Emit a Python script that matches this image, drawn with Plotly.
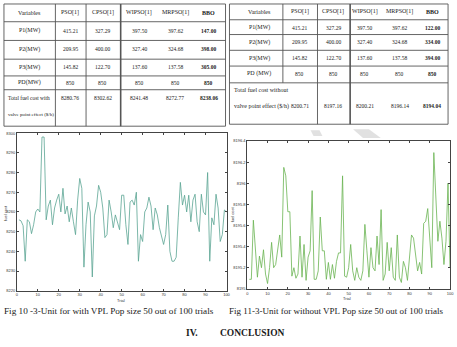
import plotly.graph_objects as go

W, H = 457, 347

# ---------------- data ----------------
trials = list(range(1, 101))

cost_with_vpl = [
    8256, 8255.5, 8253, 8235, 8256, 8255, 8249, 8253.5, 8260, 8261.5,
    8260, 8298, 8298, 8256, 8263, 8266, 8253.5, 8262, 8266, 8269,
    8260, 8272, 8259, 8263, 8255, 8262, 8255, 8248.5, 8266, 8277,
    8272, 8232, 8253.5, 8265, 8260, 8227, 8258, 8263, 8273.5, 8270,
    8262, 8247, 8248.5, 8266, 8260, 8252, 8258.5, 8255, 8251, 8268.5,
    8268.5, 8253.5, 8243.5, 8265, 8266, 8263.5, 8270, 8235, 8248.5, 8245,
    8260, 8262, 8267.5, 8263, 8251, 8262, 8258.5, 8252, 8248, 8243.5,
    8248.5, 8263.5, 8240, 8235, 8235, 8237, 8257, 8275, 8263.5, 8268.5,
    8260, 8268.5, 8255, 8266, 8269, 8255, 8250, 8269, 8260, 8258.5,
    8280, 8235, 8257, 8253.5, 8269, 8262, 8245, 8248.5, 8261, 8260,
]

cost_without_vpl = [
    8195.09, 8195.09, 8195.65, 8195.37, 8195.11, 8195.31, 8195.20, 8195.37, 8195.14, 8195.05,
    8195.20, 8195.44, 8195.20, 8195.23, 8195.39, 8195.51, 8195.30, 8196.15, 8196.07, 8195.73,
    8195.73, 8195.12, 8195.20, 8195.10, 8195.14, 8195.50, 8195.11, 8195.42, 8195.08, 8195.30,
    8195.36, 8195.93, 8195.09, 8195.09, 8195.17, 8195.68, 8195.36, 8195.36, 8195.09, 8195.25,
    8195.09, 8195.23, 8195.10, 8195.26, 8195.34, 8195.34, 8196.07, 8195.12, 8195.11, 8195.20,
    8195.42, 8195.17, 8195.08, 8195.20, 8195.11, 8195.08, 8195.17, 8195.61, 8195.36, 8195.11,
    8195.39, 8195.20, 8195.17, 8195.50, 8195.23, 8195.75, 8195.08, 8195.14, 8195.44, 8195.17,
    8195.39, 8195.11, 8195.08, 8195.51, 8195.11, 8195.06, 8195.26, 8195.20, 8195.08, 8195.30,
    8195.51, 8195.48, 8195.30, 8195.17, 8195.25, 8195.14, 8195.62, 8195.64, 8195.76, 8195.51,
    8195.20, 8196.29, 8195.89, 8195.45, 8195.64, 8195.48, 8195.23, 8195.45, 8196.00, 8195.20,
]

trial_ticks = [0, 10, 20, 30, 40, 50, 60, 70, 80, 90, 100]
vpl_ticks = [8220, 8230, 8240, 8250, 8260, 8270, 8280, 8290, 8300]
novpl_ticks = [8195, 8195.2, 8195.4, 8195.6, 8195.8, 8196, 8196.2, 8196.4]
novpl_ticktext = ["8195", "8195.2", "8195.4", "8195.6", "8195.8", "8196", "8196.2", "8196.4"]

table_headers = ["Variables", "PSO[1]", "CPSO[1]", "WIPSO[1]", "MRPSO[1]", "BBO"]

left_row_labels = ["P1(MW)", "P2(MW)", "P3(MW)", "PD(MW)"]
left_values = [
    ["415.21", "327.29", "397.50", "397.62", "147.00"],
    ["209.95", "400.00", "327.40", "324.68", "398.00"],
    ["145.82", "122.70", "137.60", "137.58", "305.00"],
    ["850", "850", "850", "850", "850"],
]
left_total_label = ["Total fuel cost with", "valve point effect ($/h)"]
left_totals = ["8280.76", "8302.62", "8241.48", "8272.77", "8238.06"]

right_row_labels = ["P1(MW)", "P2(MW)", "P3(MW)", "PD (MW)"]
right_values = [
    ["415.21", "327.29", "397.50", "397.62", "122.00"],
    ["209.95", "400.00", "327.40", "324.68", "334.00"],
    ["145.82", "122.70", "137.60", "137.58", "394.00"],
    ["850", "850", "850", "850", "850"],
]
right_total_label = ["Total fuel cost without", "valve point effect ($/h)"]
right_totals = ["8200.71", "8197.16", "8200.21", "8196.14", "8194.04"]

caption_left = "Fig 10 -3-Unit for with VPL Pop size 50 out of 100 trials"
caption_right = "Fig 11-3-Unit for without VPL Pop size 50 out of 100 trials"
heading_num = "IV."
heading_text = "CONCLUSION"


# ---------------- helpers ----------------
def X(px):
    return px / W


def Y(py):
    return 1 - py / H


shapes = []
annotations = []
SERIF = "Liberation Serif"


def hline(x0, x1, y, w=0.9, c="#555"):
    shapes.append(dict(type="line", xref="paper", yref="paper", x0=X(x0), x1=X(x1),
                       y0=Y(y), y1=Y(y), line=dict(color=c, width=w)))


def vline(x, y0, y1, w=0.9, c="#555"):
    shapes.append(dict(type="line", xref="paper", yref="paper", x0=X(x), x1=X(x),
                       y0=Y(y0), y1=Y(y1), line=dict(color=c, width=w)))


def blob(pts, c="rgba(200,200,200,0.55)"):
    path = "M " + " L ".join(f"{X(a):.4f},{Y(b):.4f}" for a, b in pts) + " Z"
    shapes.append(dict(type="path", xref="paper", yref="paper", path=path,
                       fillcolor=c, line=dict(width=0), layer="below"))


def text(px, py, s, size=6, bold=False, anchor="center", color="#1a1a1a", family=SERIF, angle=0):
    if bold:
        s = "<b>" + s + "</b>"
    annotations.append(dict(xref="paper", yref="paper", x=X(px), y=Y(py), text=s,
                            showarrow=False, xanchor=anchor, yanchor="middle",
                            textangle=angle,
                            font=dict(family=family, size=size, color=color)))


# faint watermark fragments
blob([(313, 129), (322, 129), (325, 135), (316, 135)])
blob([(356, 128), (372, 128), (384, 137), (366, 137)])

# ---------------- left table ----------------
lt_h = [1, 19, 38, 57, 74, 88, 125]
for yy in lt_h:
    hline(3, 227, yy)
for xx, w in [(3, 0.9), (55, 0.9), (86, 0.9), (121, 1.6), (227, 0.9)]:
    vline(xx, 1, 125, w=w)
lt_cols = [29, 70, 103, 140, 176, 210]
lt_rows = [10, 28, 47, 65, 81]
for c, h in zip(lt_cols, table_headers):
    text(c, lt_rows[0], h, size=6, bold=(h == "BBO"))
for r, lab, vals in zip(lt_rows[1:], left_row_labels, left_values):
    text(lt_cols[0], r, lab, size=6)
    for i, (c, v) in enumerate(zip(lt_cols[1:], vals)):
        text(c, r, v, size=5.5, bold=(i == 4))
text(5, 96, left_total_label[0], size=5.4, anchor="left")
text(5, 113, left_total_label[1], size=5.0, anchor="left")
for i, (c, v) in enumerate(zip(lt_cols[1:], left_totals)):
    text(c, 96, v, size=5.5, bold=(i == 4))

# ---------------- right table ----------------
rt_h = [1, 17, 32, 48, 64, 81, 123]
for yy in rt_h:
    hline(231, 452, yy)
vline(231, 1, 123)
vline(452, 1, 123)
vline(285, 1, 81)
vline(320, 1, 123)
vline(353, 1, 123, w=1.6)
rt_cols = [261, 302, 336, 368, 403, 436]
rt_rows = [9, 25, 40, 56, 72]
for c, h in zip(rt_cols, table_headers):
    text(c, rt_rows[0], h, size=6, bold=(h == "BBO"))
for r, lab, vals in zip(rt_rows[1:], right_row_labels, right_values):
    text(rt_cols[0], r, lab, size=6)
    for i, (c, v) in enumerate(zip(rt_cols[1:], vals)):
        text(c, r, v, size=5.5, bold=(i == 4))
text(234, 88, right_total_label[0], size=6, anchor="left")
text(234, 105, right_total_label[1], size=6, anchor="left")
for i, (c, v) in enumerate(zip(rt_cols[1:], right_totals)):
    text(c, 105, v, size=5.5, bold=(i == 4))

# ---------------- chart labels ----------------
text(121, 302, "Trial", size=4, family="Liberation Sans", color="#333")
text(350, 300, "Trial", size=4, family="Liberation Sans", color="#333")
text(5, 213, "fuel cost", size=4, family="Liberation Sans", color="#333", angle=-90)
text(234, 214, "fuel cost", size=4, family="Liberation Sans", color="#333", angle=-90)

# captions
annotations.append(dict(xref="paper", yref="paper", x=X(1), y=Y(312), text=caption_left,
                        showarrow=False, xanchor="left", yanchor="middle",
                        font=dict(family=SERIF, size=9.2, color="#1a1a1a")))
annotations.append(dict(xref="paper", yref="paper", x=X(229), y=Y(312), text=caption_right,
                        showarrow=False, xanchor="left", yanchor="middle",
                        font=dict(family=SERIF, size=9.0, color="#1a1a1a")))
text(185, 335, heading_num, size=9.5, bold=True, anchor="left")
text(219, 335, heading_text, size=9.5, bold=True, anchor="left")

# ---------------- figure ----------------
fig = go.Figure()
fig.add_trace(go.Scatter(x=trials, y=cost_with_vpl, mode="lines",
                         line=dict(color="#5aa593", width=0.8),
                         xaxis="x", yaxis="y", showlegend=False))
fig.add_trace(go.Scatter(x=trials, y=cost_without_vpl, mode="lines",
                         line=dict(color="#6ab452", width=0.8),
                         xaxis="x2", yaxis="y2", showlegend=False))

ax = dict(showline=True, linecolor="#444", linewidth=0.8, mirror="ticks",
          ticks="inside", ticklen=2, tickwidth=0.6, tickcolor="#444",
          showgrid=False, zeroline=False,
          tickfont=dict(family="Liberation Sans", size=4, color="#333"))

fig.update_layout(
    width=W, height=H,
    margin=dict(l=0, r=0, t=0, b=0),
    paper_bgcolor="white", plot_bgcolor="white",
    showlegend=False,
    xaxis=dict(ax, domain=[X(16), X(228)], range=[0, 100], tickvals=trial_ticks, anchor="y"),
    yaxis=dict(ax, domain=[Y(292), Y(132)], range=[vpl_ticks[0], vpl_ticks[-1]],
               tickvals=vpl_ticks, anchor="x"),
    xaxis2=dict(ax, domain=[X(249), X(454)], range=[0, 100], tickvals=trial_ticks, anchor="y2"),
    yaxis2=dict(ax, domain=[Y(290), Y(140)], range=[novpl_ticks[0], novpl_ticks[-1]],
                tickvals=novpl_ticks, ticktext=novpl_ticktext, anchor="x2"),
    shapes=shapes,
    annotations=annotations,
)

fig.write_html("out.html")
